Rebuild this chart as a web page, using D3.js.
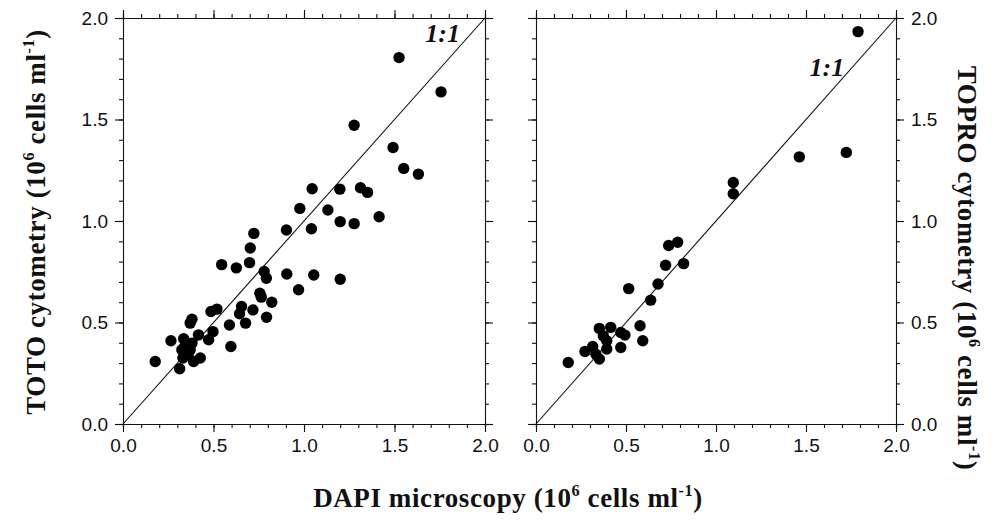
<!DOCTYPE html>
<html>
<head>
<meta charset="utf-8">
<script src="https://cdn.jsdelivr.net/npm/d3@7"></script>
<style>
  body { margin: 0; background: #fff; }
  svg { display: block; }
  .axis path, .axis line { stroke: #111; stroke-width: 1.1; }
  .axis text { font-family: "Liberation Sans", Arial, sans-serif; font-size: 19px; fill: #111; }
  .title { font-family: "Liberation Serif", "DejaVu Serif", serif; font-weight: bold; fill: #111; }
</style>
</head>
<body>
<svg width="1001" height="522"></svg>
<script>
// TOTO vs DAPI (left panel), values in 10^6 cells/ml
let totoX = [1.525, 1.757, 1.277, 1.492, 1.551, 1.632, 1.045, 1.198, 1.312, 1.351,
  0.977, 1.132, 1.200, 1.277, 1.415, 0.903, 1.041, 0.723, 0.703, 0.699,
  0.545, 0.626, 0.780, 0.792, 0.905, 1.054, 1.200, 0.970, 0.756, 0.764,
  0.822, 0.655, 0.644, 0.718, 0.677, 0.793, 0.486, 0.519, 0.588, 0.596,
  0.381, 0.371, 0.417, 0.497, 0.473, 0.265, 0.335, 0.325, 0.331, 0.371,
  0.381, 0.390, 0.427, 0.178, 0.313, 0.350, 0.345, 0.360, 0.340];
let totoY = [1.805, 1.636, 1.472, 1.362, 1.259, 1.231, 1.159, 1.157, 1.164, 1.141,
  1.062, 1.054, 0.997, 0.987, 1.021, 0.956, 0.962, 0.939, 0.867, 0.795,
  0.785, 0.769, 0.751, 0.718, 0.739, 0.734, 0.713, 0.661, 0.644, 0.625,
  0.600, 0.579, 0.543, 0.562, 0.497, 0.526, 0.554, 0.566, 0.488, 0.382,
  0.516, 0.497, 0.439, 0.455, 0.415, 0.410, 0.420, 0.365, 0.325, 0.365,
  0.398, 0.308, 0.325, 0.308, 0.272, 0.400, 0.340, 0.345, 0.380];

// TOPRO vs DAPI (right panel)
let toproX = [1.789, 1.463, 1.724, 1.096, 1.096, 0.787, 0.737, 0.720, 0.820, 0.678,
  0.515, 0.637, 0.578, 0.593, 0.415, 0.352, 0.374, 0.393, 0.471, 0.494,
  0.471, 0.393, 0.315, 0.272, 0.333, 0.352, 0.179];
let toproY = [1.933, 1.316, 1.338, 1.190, 1.134, 0.895, 0.879, 0.782, 0.790, 0.690,
  0.667, 0.610, 0.484, 0.410, 0.476, 0.471, 0.434, 0.410, 0.451, 0.438,
  0.377, 0.369, 0.382, 0.357, 0.344, 0.320, 0.303];

let majorTicks = [0, 0.5, 1.0, 1.5, 2.0];
let minorTicks = d3.range(0, 21).map(d => d / 10);

let svg = d3.select("svg");

function panel(opts) {
  let x = d3.scaleLinear().domain([0, 2]).range([opts.left, opts.right]);
  let y = d3.scaleLinear().domain([0, 2]).range([opts.bottom, opts.top]);
  let g = svg.append("g");

  // minor + major ticks on all four sides, pointing out
  let sides = [
    [d3.axisBottom(x), "translate(0," + opts.bottom + ")", true],
    [d3.axisTop(x), "translate(0," + opts.top + ")", false],
    [d3.axisLeft(y), "translate(" + opts.left + ",0)", opts.labelsLeft],
    [d3.axisRight(y), "translate(" + opts.right + ",0)", !opts.labelsLeft]
  ];
  sides.forEach(([ax, tr, labels]) => {
    g.append("g").attr("class", "axis").attr("transform", tr)
      .call(ax.tickValues(minorTicks).tickSize(4).tickFormat(""));
    let major = g.append("g").attr("class", "axis").attr("transform", tr)
      .call(ax.tickValues(majorTicks).tickSize(8).tickPadding(7)
        .tickFormat(labels ? d3.format(".1f") : ""));
    major.select(".domain").remove();
  });

  // 1:1 line
  g.append("line")
    .attr("x1", x(0)).attr("y1", y(0))
    .attr("x2", x(2)).attr("y2", y(2))
    .attr("stroke", "#111").attr("stroke-width", 1.1);

  g.selectAll("circle")
    .data(opts.xs.map((v, i) => [v, opts.ys[i]]))
    .enter()
    .append("circle")
    .attr("cx", d => x(d[0]))
    .attr("cy", d => y(d[1]))
    .attr("r", 5.7)
    .attr("fill", "#000");

  g.append("text")
    .attr("class", "title")
    .attr("x", x(opts.labelAt[0]))
    .attr("y", y(opts.labelAt[1]))
    .attr("font-size", 26)
    .attr("font-style", "italic")
    .text("1:1");
  return g;
}

panel({ left: 123, right: 485, top: 18, bottom: 424, xs: totoX, ys: totoY,
  labelsLeft: true, labelAt: [1.67, 1.88] });
panel({ left: 536, right: 896, top: 18, bottom: 424, xs: toproX, ys: toproY,
  labelsLeft: false, labelAt: [1.52, 1.715] });

// axis titles with superscripts
function unitTitle(sel, name) {
  sel.append("tspan").text(name + " (10");
  sel.append("tspan").attr("dy", -11).attr("font-size", "0.6em").text("6");
  sel.append("tspan").attr("dy", 11).text(" cells ml");
  sel.append("tspan").attr("dy", -11).attr("font-size", "0.6em").text("-1");
  sel.append("tspan").attr("dy", 11).text(")");
}

svg.append("text").attr("class", "title")
  .attr("text-anchor", "middle").attr("font-size", 27)
  .attr("letter-spacing", 0.6)
  .attr("x", 508).attr("y", 507)
  .call(unitTitle, "DAPI microscopy");

svg.append("text").attr("class", "title")
  .attr("text-anchor", "middle").attr("font-size", 27)
  .attr("letter-spacing", 0.6)
  .attr("transform", "translate(45,222) rotate(-90)")
  .call(unitTitle, "TOTO cytometry");

svg.append("text").attr("class", "title")
  .attr("text-anchor", "middle").attr("font-size", 27)
  .attr("letter-spacing", 0.6)
  .attr("transform", "translate(958,268) rotate(90)")
  .call(unitTitle, "TOPRO cytometry");
</script>
</body>
</html>
